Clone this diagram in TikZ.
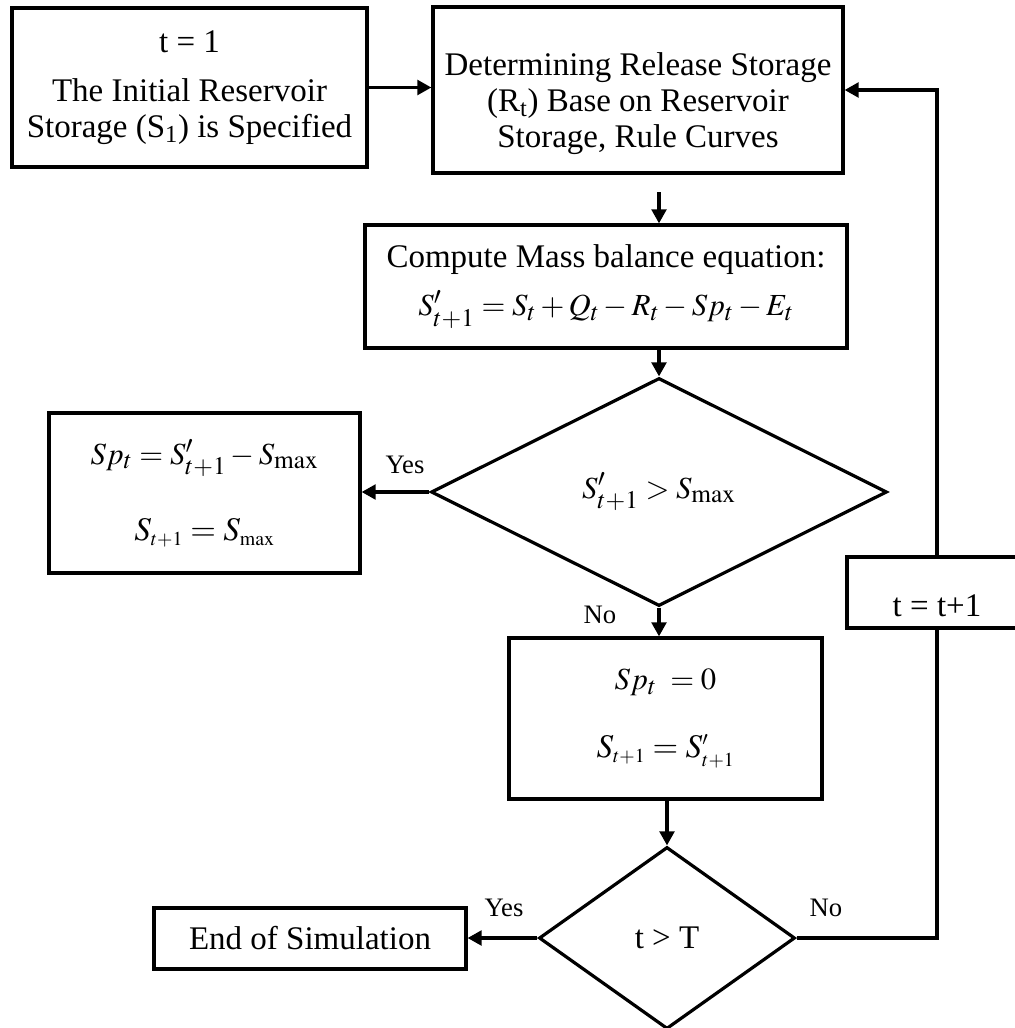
\documentclass[tikz,border=0pt]{standalone}
\usepackage{mathptmx}
\usepackage{fontspec}
\setmainfont{Liberation Serif}
\DeclareMathSizes{23}{23}{19}{13}
\newcommand{\eqsize}{\fontsize{23}{26}\selectfont}
\usetikzlibrary{shapes.geometric,arrows.meta}

\begin{document}
\begin{tikzpicture}[x=0.75pt,y=0.75pt,yscale=-1,xscale=1,
  box/.style={draw,line width=2.4pt,rectangle,inner sep=0pt,align=center,font=\fontsize{24.75}{27}\selectfont},
  decide/.style={draw,line width=2.4pt,diamond,inner sep=0pt,align=center,font=\fontsize{24.75}{27}\selectfont},
  arr/.style={line width=2.4pt,-{Triangle[length=10.5pt,width=11pt]}},
  link/.style={line width=2.4pt},
  lbl/.style={inner sep=0.75pt,font=\fontsize{20}{22}\selectfont}]
%set diagram start at 0, width 1014, height 1028
\useasboundingbox (0,0) rectangle (1014,1028);

%Shape: Rectangle [id:init]
\node [box,minimum width=266.3pt,minimum height=119.3pt] (init) at (189.5,87.5) {t = 1\\[10pt]The Initial Reservoir\\Storage (S\textsubscript{1}) is Specified};
%Shape: Rectangle [id:release]
\node [box,minimum width=307.5pt,minimum height=124.5pt] (release) at (638,90) {\rule{0pt}{38pt}Determining Release Storage\\(R\textsubscript{t}) Base on Reservoir\\Storage, Rule Curves};
%Shape: Rectangle [id:mass]
\node [box,minimum width=361.5pt,minimum height=92.3pt] (mass) at (606,286.5) {Compute Mass balance equation:\\[9pt]{\eqsize $S^{\prime}_{t+1} = S_t + Q_t - R_t - Sp_t - E_t$}};
%Shape: Diamond [id:check]
\node [decide,minimum width=342pt,minimum height=171pt] (check) at (659,492) {{\eqsize $S^{\prime}_{t+1} > S_{\mathrm{max}}$}};
%Shape: Rectangle [id:spill]
\node [box,minimum width=233.3pt,minimum height=120pt] (spill) at (204.5,493) {{\eqsize $Sp_t = S^{\prime}_{t+1} - S_{\mathrm{max}}$}\\[30pt]$S_{\scriptscriptstyle t+1} = S_{\scriptscriptstyle\mathrm{max}}$};
%Shape: Rectangle [id:nospill]
\node [box,minimum width=234.8pt,minimum height=120.8pt] (nospill) at (665.5,718.5) {{\eqsize $Sp_t \;= 0$}\\[24pt]$S_{\scriptscriptstyle t+1} = S^{\scriptscriptstyle\prime}_{\scriptscriptstyle t+1}$};
%Shape: Diamond [id:endt]
\node [decide,minimum width=192pt,minimum height=136.5pt] (endt) at (667,938) {t > T};
%Shape: Rectangle [id:endsim]
\node [box,minimum width=234pt,minimum height=45.8pt] (endsim) at (310,938.5) {End of Simulation};
%Shape: Rectangle [id:incr]
\node [box,minimum width=135pt,minimum height=53.3pt] (incr) at (937,592.5) {\rule{0pt}{36pt}t = t+1};

%Straight Lines [id:a1]
\draw [arr] (init.east) -- (init.east -| release.west);
%Straight Lines [id:a2]
\coordinate (gap) at (659,192);
\draw [arr] (gap) -- (gap |- mass.north);
%Straight Lines [id:a3]
\draw [arr] (mass.south -| check.north) -- (check.north);
%Straight Lines [id:a4]
\draw [arr] (check.west) -- (check.west -| spill.east);
%Straight Lines [id:a5]
\draw [arr] (check.south) -- (check.south |- nospill.north);
%Straight Lines [id:a6]
\draw [arr] (nospill.south -| endt.north) -- (endt.north);
%Straight Lines [id:a7]
\draw [arr] (endt.west) -- (endt.west -| endsim.east);
%Straight Lines [id:a8]
\draw [link] (endt.east) -| (incr.south);
%Straight Lines [id:a9]
\draw [arr] (incr.north) |- (release.east);

% Text Node
\node [lbl] (yes1) at (405,465) {Yes};
% Text Node
\node [lbl] (no1) at (600,615) {No};
% Text Node
\node [lbl] (yes2) at (504,908) {Yes};
% Text Node
\node [lbl] (no2) at (826,908) {No};

\end{tikzpicture}
\end{document}
